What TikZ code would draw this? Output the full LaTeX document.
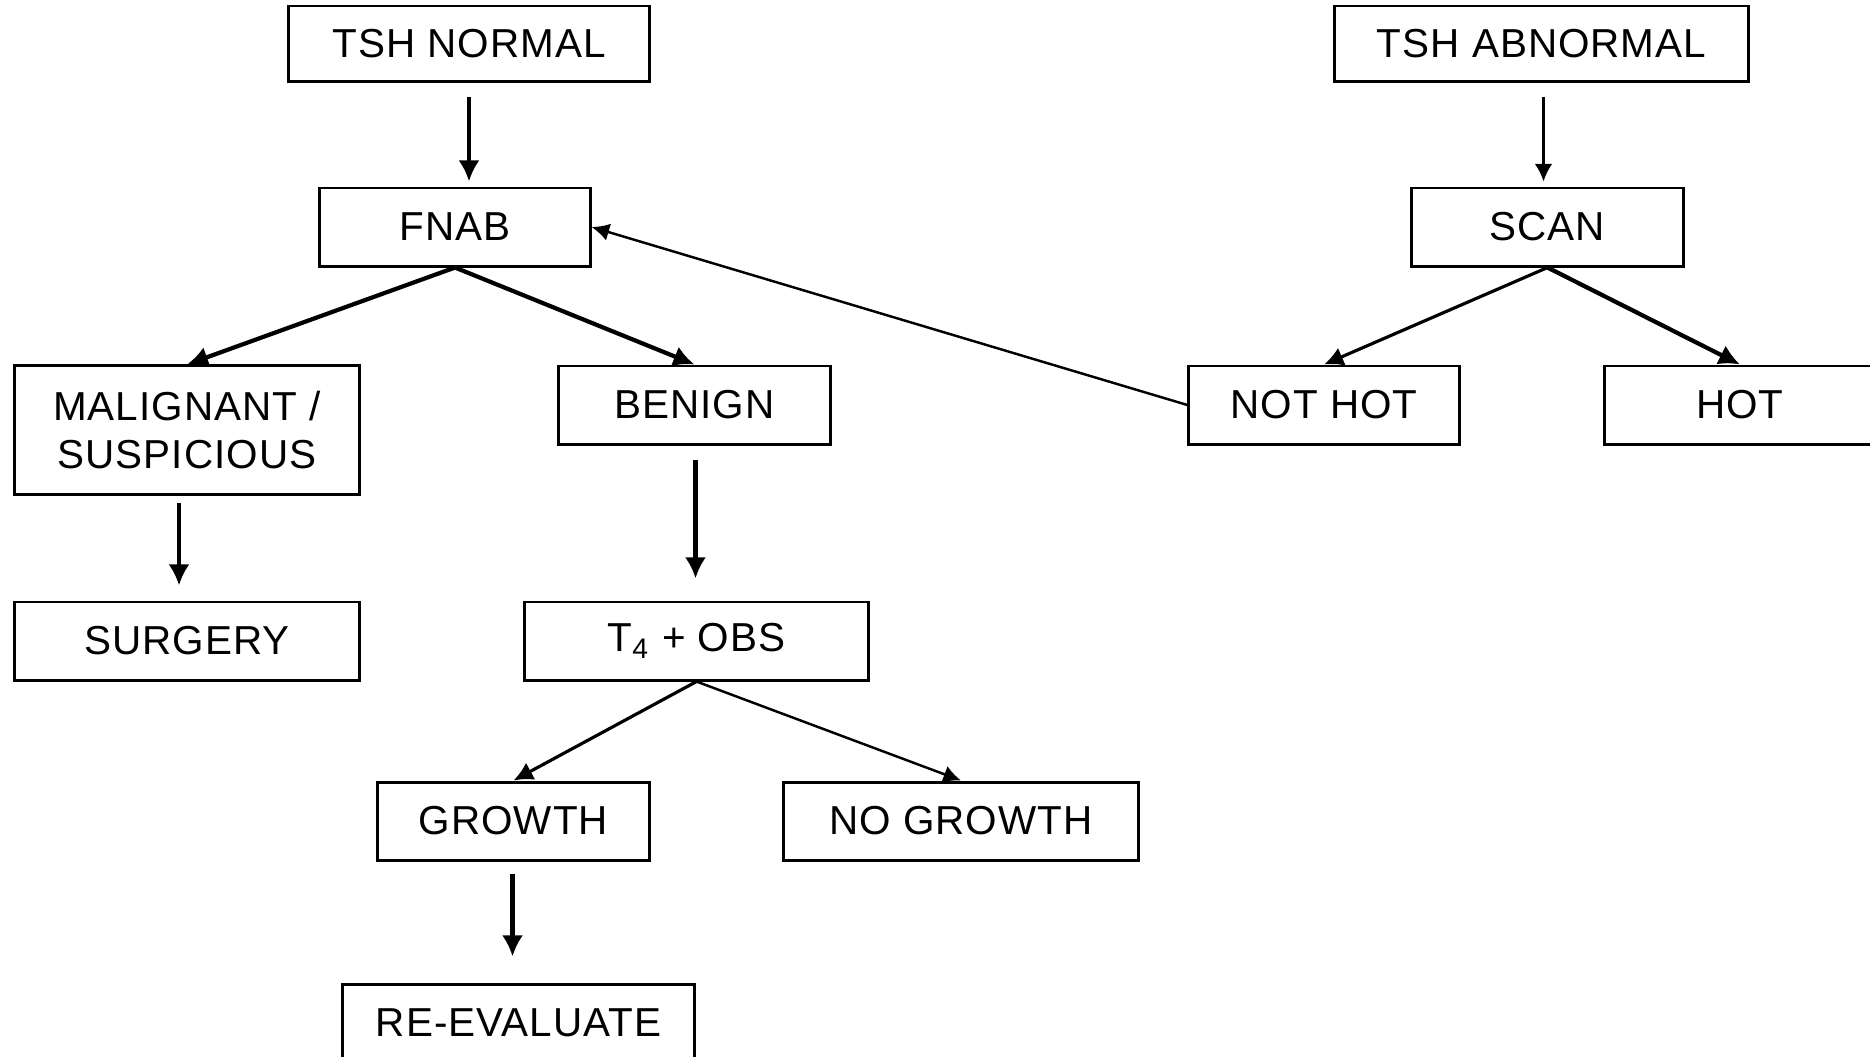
\documentclass[tikz,border=0pt]{standalone}
\usepackage{fontspec}
\setmainfont[LetterSpace=2.5]{Liberation Sans}
\usepackage{tikz}
\usetikzlibrary{arrows.meta, positioning, calc}

\tikzset{
  box/.style={draw, line width=0.85pt, inner sep=0pt, align=center,
    minimum height=0.78cm, font=\fontsize{11.5}{13.6}\selectfont},
  arrthick/.style={line width=1.2pt, -{Latex[length=6pt, width=6pt]}},
  arrmid/.style={line width=0.9pt, -{Latex[length=5.5pt, width=5.5pt]}},
  arrthin/.style={line width=0.7pt, -{Latex[length=5pt, width=5pt]}}
}

\begin{document}
\begin{tikzpicture}[x=0.01cm, y=-0.01cm]
    \clip (0,0) rectangle (1870,1056);

    % left tree: TSH normal
    \node[box, minimum width=3.6cm, minimum height=0.75cm] (tshn) at (469,43.5) {TSH NORMAL};
    \node[box, minimum width=2.7cm] (fnab) at (455,227) {FNAB};
    \node[box, minimum width=3.44cm, minimum height=1.28cm] (malig) at (187,430) {MALIGNANT /\\SUSPICIOUS};
    \node[box, minimum width=2.71cm] (benign) at (694.5,405) {BENIGN};
    \node[box, minimum width=3.44cm] (surgery) at (187,641) {SURGERY};
    \node[box, minimum width=3.43cm] (tobs) at (696.5,641) {T\textsubscript{4} + OBS};
    \node[box, minimum width=2.71cm] (growth) at (513.5,821) {GROWTH};
    \node[box, minimum width=3.54cm] (nogrowth) at (961,821) {NO GROWTH};
    \node[box, minimum width=3.51cm] (reeval) at (518.5,1023) {RE-EVALUATE};

    % right tree: TSH abnormal
    \node[box, minimum width=4.13cm, minimum height=0.75cm] (tsha) at (1541.5,43.5) {TSH ABNORMAL};
    \node[box, minimum width=2.71cm] (scan) at (1547.5,227) {SCAN};
    \node[box, minimum width=2.7cm] (nothot) at (1324,405) {NOT HOT};
    \node[box, minimum width=2.7cm] (hot) at (1740,405) {HOT};

    % connectors
    \draw[arrthick] ($(tshn.south)+(0,14)$) -- ($(tshn.south |- fnab.north)+(0,-5)$);
    \draw[arrthick] (fnab.south) -- (malig.north);
    \draw[arrthick] (fnab.south) -- (benign.north);
    \draw[arrthick] ($(malig.south)+(-8,7)$) -- ($(malig.south |- surgery.north)+(-8,-15)$);
    \draw[arrthick] ($(benign.south)+(1,14)$) -- ($(benign.south |- tobs.north)+(1,-22)$);
    \draw[arrmid] (tobs.south) -- (growth.north);
    \draw[arrthin] (tobs.south) -- (nogrowth.north);
    \draw[arrthick] ($(growth.south)+(-1,12)$) -- ($(growth.south |- reeval.north)+(-1,-26)$);

    \draw[arrthin] ($(tsha.south)+(2,14)$) -- ($(tsha.south |- scan.north)+(2,-5)$);
    \draw[arrmid] (scan.south) -- (nothot.north);
    \draw[arrthick] (scan.south) -- (hot.north);
    \draw[arrthin] (nothot.west) -- (fnab.east);
\end{tikzpicture}
\end{document}
